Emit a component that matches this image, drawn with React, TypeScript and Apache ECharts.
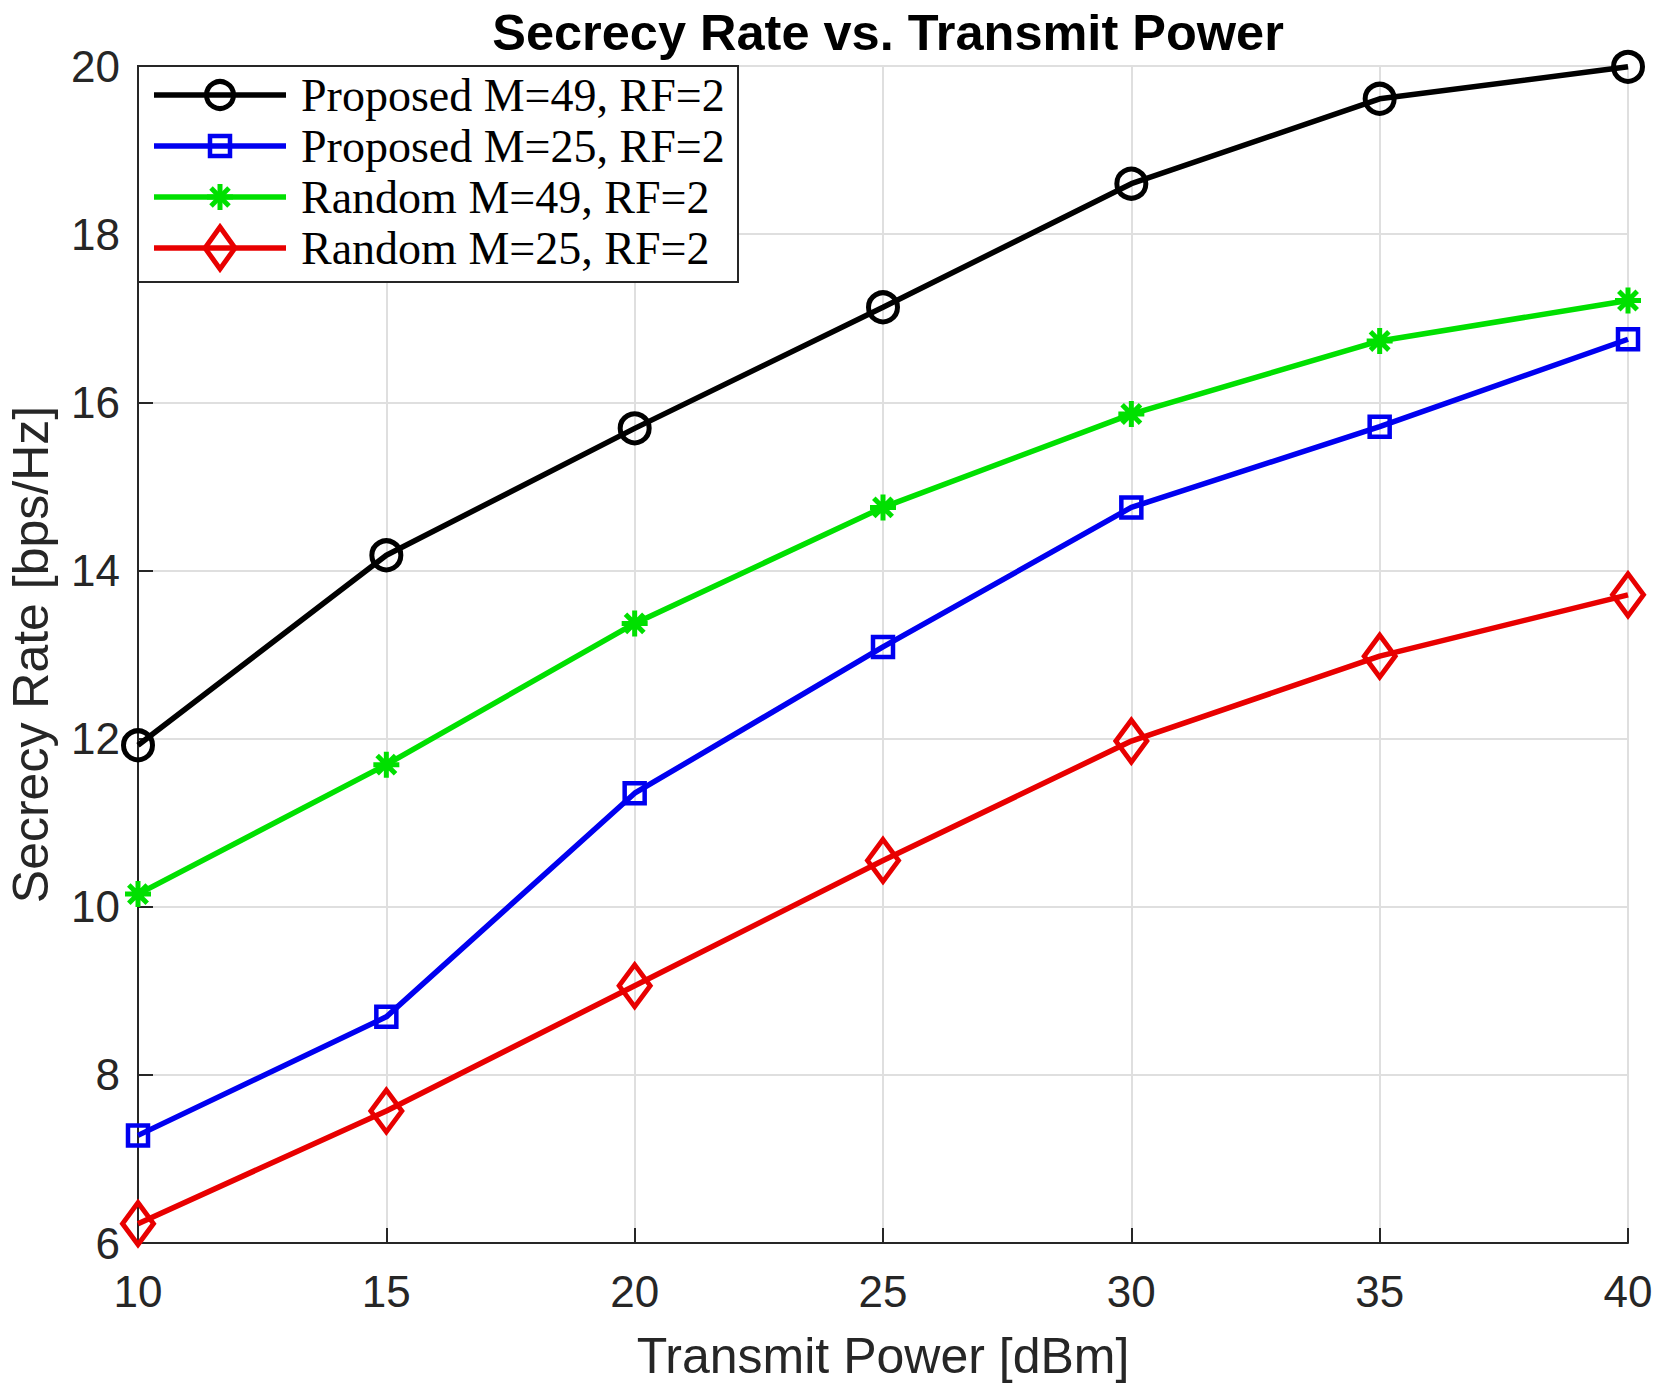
import React, { useEffect, useRef } from "react";
import * as echarts from "echarts";

const powers = [10, 15, 20, 25, 30, 35, 40];
const proposedM49 = [11.92, 14.18, 15.69, 17.13, 18.6, 19.61, 19.99];
const proposedM25 = [7.28, 8.69, 11.35, 13.09, 14.75, 15.71, 16.75];
const randomM49 = [10.15, 11.69, 13.37, 14.75, 15.86, 16.73, 17.21];
const randomM25 = [6.23, 7.57, 9.06, 10.55, 11.97, 12.98, 13.71];
const seriesNames = [
  "Proposed M=49, RF=2",
  "Proposed M=25, RF=2",
  "Random M=49, RF=2",
  "Random M=25, RF=2",
];

const BLACK = "#000000";
const BLUE = "#0000f0";
const GREEN = "#00e000";
const RED = "#e80000";
const AX = "#262626";
const GRID = "#dfdfdf";
const LW = 5.5;

const STAR = "path://M12,0L12,24M0,12L24,12M3.5,3.5L20.5,20.5M3.5,20.5L20.5,3.5";

export default function App() {
  const ref = useRef<HTMLDivElement>(null);
  useEffect(() => {
    const chart = echarts.init(ref.current!, null, { renderer: "svg" });
    const pts = (ys: number[]) => powers.map((x, i) => [x, ys[i]]);
    const mk = (name: string, ys: number[], color: string, symbol: string, size: any, bw: number) => ({
      name,
      type: "line",
      data: pts(ys),
      symbol,
      symbolSize: size,
      showAllSymbol: true,
      clip: false,
      lineStyle: { color, width: LW },
      itemStyle: { color: "rgba(0,0,0,0)", borderColor: color, borderWidth: bw },
      emphasis: { disabled: true },
      z: 3,
    });
    const LX0 = 154, LX1 = 286, LCX = 220, TX = 301;
    const rows = [95, 146, 197, 248];
    const legendGraphics: any[] = [
      {
        type: "rect",
        shape: { x: 138, y: 66, width: 600, height: 216 },
        style: { fill: "#ffffff", stroke: AX, lineWidth: 2 },
        z: 100,
      },
    ];
    const cols = [BLACK, BLUE, GREEN, RED];
    rows.forEach((y, i) => {
      legendGraphics.push({
        type: "line",
        shape: { x1: LX0, y1: y, x2: LX1, y2: y },
        style: { stroke: cols[i], lineWidth: LW },
        z: 101,
      });
      legendGraphics.push({
        type: "text",
        x: TX,
        y: y,
        style: {
          text: seriesNames[i],
          font: "46px 'Liberation Serif', serif",
          fill: "#000000",
          textVerticalAlign: "middle",
          verticalAlign: "middle",
        },
        z: 102,
      });
    });
    legendGraphics.push({
      type: "circle",
      shape: { cx: LCX, cy: rows[0], r: 13.5 },
      style: { fill: "none", stroke: BLACK, lineWidth: 5 },
      z: 102,
    });
    legendGraphics.push({
      type: "rect",
      shape: { x: LCX - 10, y: rows[1] - 10, width: 20, height: 20 },
      style: { fill: "none", stroke: BLUE, lineWidth: 4.5 },
      z: 102,
    });
    const s = 13, d = 9;
    [
      [0, -s, 0, s],
      [-s, 0, s, 0],
      [-d, -d, d, d],
      [-d, d, d, -d],
    ].forEach(([a, b, c, e]) =>
      legendGraphics.push({
        type: "line",
        shape: { x1: LCX + a, y1: rows[2] + b, x2: LCX + c, y2: rows[2] + e },
        style: { stroke: GREEN, lineWidth: 5 },
        z: 102,
      })
    );
    legendGraphics.push({
      type: "polygon",
      shape: {
        points: [
          [LCX, rows[3] - 21],
          [LCX + 15, rows[3]],
          [LCX, rows[3] + 21],
          [LCX - 15, rows[3]],
        ],
      },
      style: { fill: "none", stroke: RED, lineWidth: 5 },
      z: 102,
    });

    chart.setOption({
      animation: false,
      backgroundColor: "#ffffff",
      title: {
        text: "Secrecy Rate vs. Transmit Power",
        left: 883,
        top: 2,
        textAlign: "center",
        textStyle: {
          fontFamily: "'Liberation Sans', Arial, sans-serif",
          fontWeight: "bold",
          fontSize: 50.5,
          color: "#000000",
        },
      },
      grid: {
        left: 138,
        right: 32,
        top: 66,
        bottom: 152,
        containLabel: false,
        outerBoundsMode: "none",
      },
      xAxis: {
        type: "value",
        min: 10,
        max: 40,
        interval: 5,
        name: "Transmit Power [dBm]",
        nameLocation: "middle",
        nameGap: 88,
        nameTextStyle: {
          fontFamily: "'Liberation Sans', Arial, sans-serif",
          fontSize: 50,
          color: AX,
        },
        axisLine: { show: true, onZero: false, lineStyle: { color: AX, width: 2 } },
        axisTick: { show: true, inside: true, length: 15, lineStyle: { color: AX, width: 2 } },
        axisLabel: {
          margin: 26,
          fontFamily: "'Liberation Sans', Arial, sans-serif",
          fontSize: 44,
          color: AX,
        },
        splitLine: { show: true, lineStyle: { color: GRID, width: 2 } },
      },
      yAxis: {
        type: "value",
        min: 6,
        max: 20,
        interval: 2,
        name: "Secrecy Rate [bps/Hz]",
        nameLocation: "middle",
        nameGap: 82,
        nameTextStyle: {
          fontFamily: "'Liberation Sans', Arial, sans-serif",
          fontSize: 50,
          color: AX,
        },
        axisLine: { show: true, onZero: false, lineStyle: { color: AX, width: 2 } },
        axisTick: { show: true, inside: true, length: 15, lineStyle: { color: AX, width: 2 } },
        axisLabel: {
          margin: 18,
          fontFamily: "'Liberation Sans', Arial, sans-serif",
          fontSize: 44,
          color: AX,
        },
        splitLine: { show: true, lineStyle: { color: GRID, width: 2 } },
      },
      series: [
        mk(seriesNames[0], proposedM49, BLACK, "circle", 29, 5),
        mk(seriesNames[1], proposedM25, BLUE, "rect", 20, 4.5),
        mk(seriesNames[2], randomM49, GREEN, STAR, 26, 5),
        mk(seriesNames[3], randomM25, RED, "diamond", [31, 42], 5),
      ],
      graphic: legendGraphics,
    });
    return () => chart.dispose();
  }, []);
  return (
    <div
      ref={ref}
      style={{ position: "absolute", left: 0, top: 0, width: 1660, height: 1395 }}
    />
  );
}
